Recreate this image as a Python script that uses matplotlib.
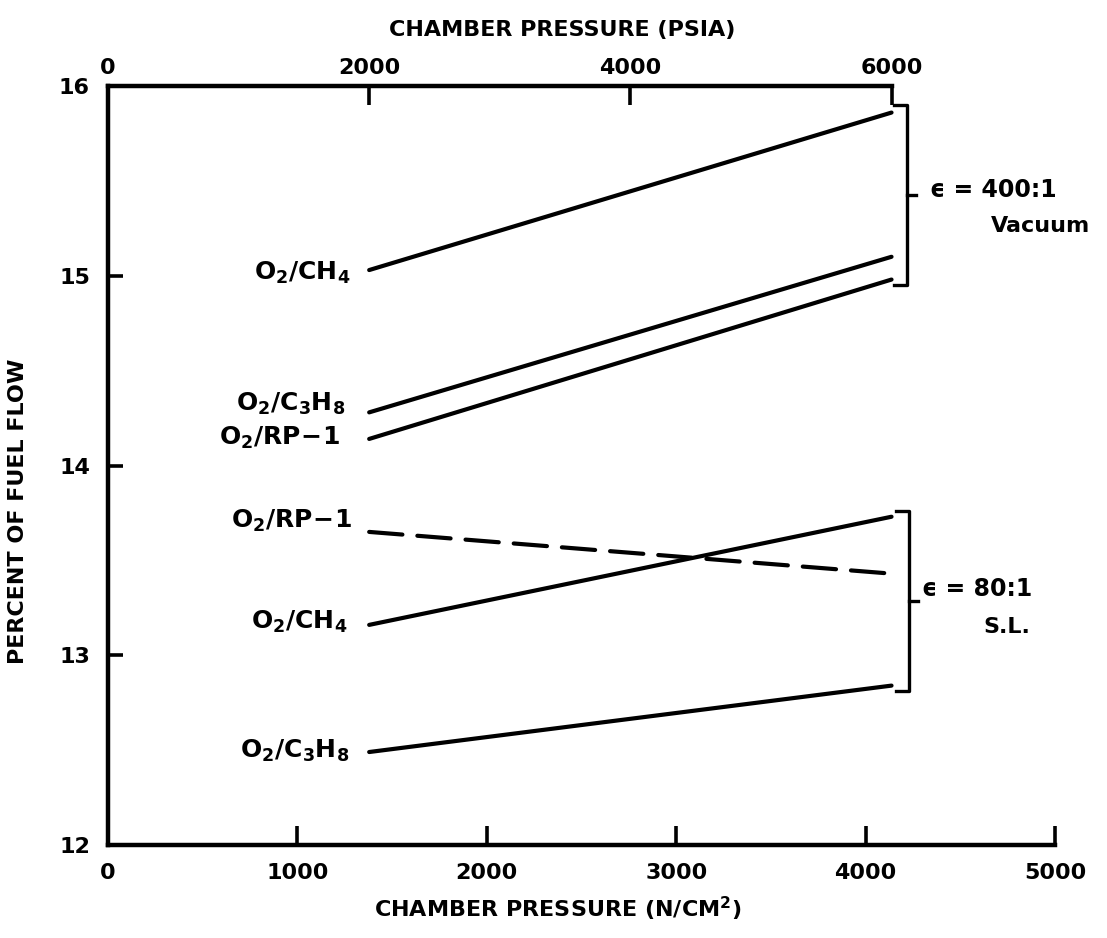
import numpy as np
import matplotlib
matplotlib.use("Agg")
import matplotlib.pyplot as plt

PSI_TO_NCM2 = 0.68948  # 1 psia = 0.68948 N/cm^2

# chamber pressure range of every curve (psia)
p_psia = [2000, 6000]

# percent of fuel flow at the two ends of each curve
vac_ch4 = [15.03, 15.86]
vac_c3h8 = [14.28, 15.10]
vac_rp1 = [14.14, 14.98]
sl_rp1 = [13.65, 13.43]
sl_ch4 = [13.16, 13.73]
sl_c3h8 = [12.49, 12.84]

# curve labels: text, x of right edge (N/cm^2), baseline (%)
labels = [
    (r"$\mathbf{O_2/CH_4}$", 1280, 14.98),
    (r"$\mathbf{O_2/C_3H_8}$", 1255, 14.29),
    (r"$\mathbf{O_2/RP\!-\!1}$", 1230, 14.11),
    (r"$\mathbf{O_2/RP\!-\!1}$", 1290, 13.67),
    (r"$\mathbf{O_2/CH_4}$", 1265, 13.14),
    (r"$\mathbf{O_2/C_3H_8}$", 1275, 12.46),
]

x_ticks = [0, 1000, 2000, 3000, 4000, 5000]
psia_ticks = [0, 2000, 4000, 6000]
y_ticks = [12, 13, 14, 15, 16]

plt.rcParams["font.family"] = "DejaVu Sans"
plt.rcParams["font.weight"] = "bold"
plt.rcParams["axes.labelweight"] = "bold"
fig = plt.figure(figsize=(11.07, 9.38), dpi=100)
ax = fig.add_axes([108 / 1107, 93 / 938, 947 / 1107, 759 / 938])

x = np.array(p_psia) * PSI_TO_NCM2
lw = 3.0
for vals in (vac_ch4, vac_c3h8, vac_rp1, sl_ch4, sl_c3h8):
    ax.plot(x, vals, color="black", lw=lw, solid_capstyle="round")
ax.plot(x, sl_rp1, color="black", lw=lw, dashes=(8, 3.6), dash_capstyle="round")

for txt, xr, yb in labels:
    ax.text(xr, yb, txt, ha="right", va="baseline", fontsize=18)

# grouping brackets
def bracket(xb, lo, hi, hook=70, tick=45):
    ax.plot([xb - hook, xb, xb, xb - hook], [hi, hi, lo, lo],
            color="black", lw=2.4, clip_on=False)
    mid = (lo + hi) / 2
    ax.plot([xb, xb + tick], [mid, mid], color="black", lw=2.4, clip_on=False)

bracket(4220, 14.95, 15.90)
bracket(4230, 12.81, 13.76)

ax.text(4340, 15.45, "ϵ = 400:1", fontsize=17, va="center", ha="left")
ax.text(4660, 15.26, "Vacuum", fontsize=16, va="center", ha="left")
ax.text(4300, 13.35, "ϵ = 80:1", fontsize=17, va="center", ha="left")
ax.text(4620, 13.15, "S.L.", fontsize=16, va="center", ha="left")

ax.set_xlim(0, 5000)
ax.set_ylim(12, 16)
ax.set_xticks(x_ticks)
ax.set_yticks(y_ticks)
ax.tick_params(axis="both", direction="in", length=14, width=2.6, labelsize=16)
ax.tick_params(axis="x", pad=13)
ax.tick_params(axis="y", pad=13, length=11)
for s in ("top", "right"):
    ax.spines[s].set_visible(False)
for s in ("left", "bottom"):
    ax.spines[s].set_linewidth(3.2)

# top scale in psia, only up to 6000
ax.plot([0, 6000 * PSI_TO_NCM2], [16, 16], color="black", lw=3.2,
        clip_on=False, solid_capstyle="projecting")
top = ax.secondary_xaxis("top", functions=(lambda v: v / PSI_TO_NCM2,
                                           lambda v: v * PSI_TO_NCM2))
top.set_xticks(psia_ticks)
top.tick_params(direction="in", length=14, width=2.6, labelsize=16, pad=6)
top.spines["top"].set_visible(False)
fig.text(562 / 1107, 1 - 30 / 938, "CHAMBER PRESSURE (PSIA)",
         fontsize=16, ha="center", va="center")

ax.set_xlabel(r"CHAMBER PRESSURE (N/CM$^\mathbf{2}$)", fontsize=16)
ax.xaxis.set_label_coords(0.475, -50 / 759)
ax.set_ylabel("PERCENT OF FUEL FLOW", fontsize=16)
ax.yaxis.set_label_coords(-80 / 947, 0.44)

fig.savefig("out.png", dpi=100)
